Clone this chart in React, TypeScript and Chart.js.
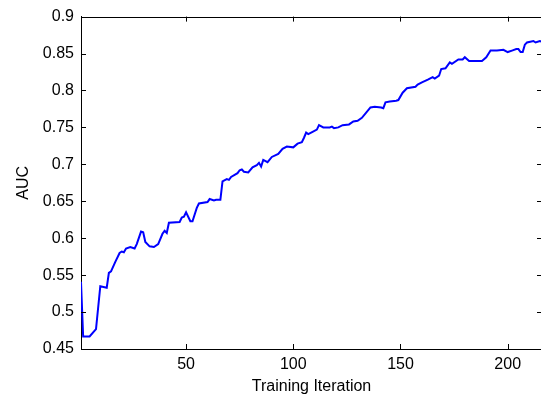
import React, { useEffect, useRef } from "react";
import { Chart, registerables } from "chart.js";

Chart.register(...registerables);

const iterations = [
  1, 2, 5, 8, 10, 13, 14, 15, 17, 19, 20, 21, 22, 24, 26, 27, 29, 30, 31, 33,
  35, 37, 39, 40, 41, 42, 47, 48, 49, 50, 52, 53, 55, 56, 60, 61, 63, 64, 66, 67,
  69, 70, 71, 74, 75, 76, 77, 79, 81, 83, 84, 85, 86, 88, 90, 93, 95, 97, 100, 102,
  104, 105, 106, 107, 109, 111, 112, 114, 117, 118, 119, 121, 123, 126, 128, 130, 132, 134, 136, 138,
  141, 142, 143, 145, 148, 149, 151, 153, 157, 158, 160, 163, 165, 166, 168, 169, 171, 173, 174, 177,
  179, 180, 182, 188, 190, 192, 195, 198, 200, 202, 204, 205, 206, 207, 208, 209, 212, 213, 215, 216,
];

const aucValues = [
  0.541, 0.467, 0.467, 0.477, 0.535, 0.533, 0.553, 0.555, 0.568, 0.58, 0.582, 0.581, 0.586, 0.588, 0.586, 0.592, 0.609, 0.608, 0.595, 0.589,
  0.588, 0.592, 0.606, 0.61, 0.607, 0.621, 0.622, 0.628, 0.629, 0.635, 0.623, 0.623, 0.641, 0.647, 0.649, 0.653, 0.651, 0.652, 0.652, 0.677,
  0.68, 0.679, 0.683, 0.688, 0.692, 0.693, 0.69, 0.689, 0.696, 0.699, 0.702, 0.697, 0.706, 0.703, 0.71, 0.714, 0.721, 0.724, 0.723, 0.728,
  0.73, 0.736, 0.743, 0.741, 0.744, 0.747, 0.753, 0.75, 0.75, 0.751, 0.749, 0.75, 0.753, 0.754, 0.758, 0.759, 0.763, 0.77, 0.777, 0.778,
  0.777, 0.776, 0.784, 0.785, 0.786, 0.787, 0.797, 0.803, 0.805, 0.808, 0.811, 0.815, 0.818, 0.816, 0.82, 0.829, 0.83, 0.838, 0.836, 0.842,
  0.842, 0.845, 0.84, 0.84, 0.845, 0.854, 0.854, 0.855, 0.852, 0.854, 0.856, 0.856, 0.852, 0.852, 0.862, 0.865, 0.867, 0.865, 0.867, 0.866,
];

const xTicks = [50, 100, 150, 200];
const yTicks = [0.45, 0.5, 0.55, 0.6, 0.65, 0.7, 0.75, 0.8, 0.85, 0.9];
const yTickLabels = ["0.45", "0.5", "0.55", "0.6", "0.65", "0.7", "0.75", "0.8", "0.85", "0.9"];

const xTitle = "Training Iteration";
const yTitle = "AUC";

const CANVAS_W = 560;
const CANVAS_H = 399;

const innerTicksPlugin = {
  id: "innerTicks",
  afterDraw(chart: any) {
    const { ctx, chartArea } = chart;
    const xs = chart.scales.x;
    const ys = chart.scales.y;
    const len = 5;
    ctx.save();
    ctx.strokeStyle = "#000";
    ctx.lineWidth = 1;
    ctx.beginPath();
    ctx.moveTo(chartArea.left, Math.round(chartArea.top) + 0.5);
    ctx.lineTo(chartArea.right, Math.round(chartArea.top) + 0.5);
    ctx.moveTo(Math.round(chartArea.right) + 0.5, chartArea.top);
    ctx.lineTo(Math.round(chartArea.right) + 0.5, chartArea.bottom);
    xTicks.forEach((v) => {
      const px = Math.round(xs.getPixelForValue(v)) + 0.5;
      ctx.moveTo(px, chartArea.bottom);
      ctx.lineTo(px, chartArea.bottom - len);
      ctx.moveTo(px, chartArea.top);
      ctx.lineTo(px, chartArea.top + len);
    });
    yTicks.forEach((v) => {
      const py = Math.round(ys.getPixelForValue(v)) + 0.5;
      ctx.moveTo(chartArea.left, py);
      ctx.lineTo(chartArea.left + len, py);
      ctx.moveTo(chartArea.right, py);
      ctx.lineTo(chartArea.right - len, py);
    });
    ctx.stroke();
    ctx.restore();
  },
};

export default function App() {
  const canvasRef = useRef<HTMLCanvasElement | null>(null);

  useEffect(() => {
    const canvas = canvasRef.current;
    if (!canvas) return;
    const font = { family: "'Liberation Sans', Arial, sans-serif", size: 16 };
    const chart = new Chart(canvas, {
      type: "line",
      data: {
        datasets: [
          {
            data: iterations.map((x, i) => ({ x, y: aucValues[i] })),
            borderColor: "#0000ff",
            backgroundColor: "#0000ff",
            borderWidth: 2,
            pointRadius: 0,
            tension: 0,
            fill: false,
          },
        ],
      },
      options: {
        animation: false,
        responsive: false,
        devicePixelRatio: 1,
        layout: { padding: { top: 10, right: CANVAS_W - 542, left: 0, bottom: 0 } },
        plugins: { legend: { display: false }, tooltip: { enabled: false } },
        scales: {
          x: {
            type: "linear",
            min: 1,
            max: 216,
            afterBuildTicks: (s: any) => {
              s.ticks = xTicks.map((v) => ({ value: v }));
            },
            afterFit: (s: any) => {
              s.height = 50;
            },
            grid: { display: false, drawTicks: false },
            border: { display: true, color: "#000", width: 1 },
            ticks: { font, color: "#000", padding: 6, maxRotation: 0, autoSkip: false },
            title: { display: true, text: xTitle, font, color: "#000", padding: { top: 0, bottom: 3 } },
          },
          y: {
            type: "linear",
            min: 0.45,
            max: 0.9,
            afterBuildTicks: (s: any) => {
              s.ticks = yTicks.map((v) => ({ value: v }));
            },
            afterFit: (s: any) => {
              s.width = 81;
            },
            grid: { display: false, drawTicks: false },
            border: { display: true, color: "#000", width: 1 },
            ticks: {
              font,
              color: "#000",
              padding: 7,
              autoSkip: false,
              callback: (v: any) => {
                const i = yTicks.findIndex((t) => Math.abs(t - Number(v)) < 1e-9);
                return i >= 0 ? yTickLabels[i] : "";
              },
            },
            title: { display: true, text: yTitle, font, color: "#000", padding: { top: 14, bottom: 0 } },
          },
        },
      },
      plugins: [innerTicksPlugin],
    } as any);
    return () => chart.destroy();
  }, []);

  return (
    <div style={{ position: "fixed", left: 0, top: 0, width: 541, height: 399, overflow: "hidden", background: "#fff" }}>
      <canvas ref={canvasRef} width={CANVAS_W} height={CANVAS_H} style={{ width: CANVAS_W, height: CANVAS_H, display: "block" }} />
    </div>
  );
}
